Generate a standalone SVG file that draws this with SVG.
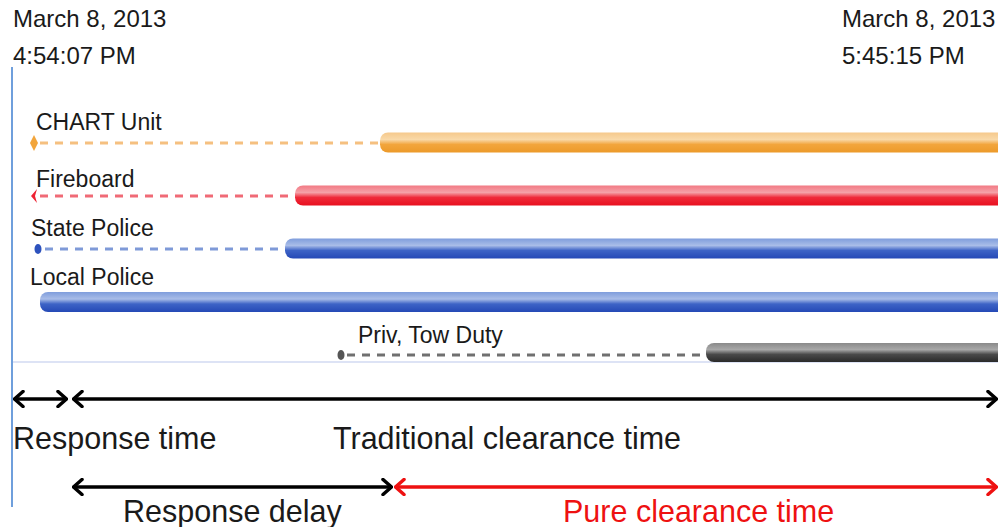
<svg xmlns="http://www.w3.org/2000/svg" width="998" height="527" viewBox="0 0 998 527">
<style>
text{font-family:"Liberation Sans",Arial,sans-serif;fill:#1a1a1a}
.lbl{font-size:23px}
.top{font-size:24px}
.big{font-size:30.5px}
.dash{stroke-width:3.2;stroke-dasharray:8 7;fill:none}
.arr{stroke-width:3.5;fill:none}
</style>
<defs>
<linearGradient id="gO" x1="0" y1="0" x2="0" y2="1"><stop offset="0" stop-color="#f6c98c"/><stop offset="0.35" stop-color="#f9d9a8"/><stop offset="0.6" stop-color="#f2a53c"/><stop offset="1" stop-color="#ec9a2a"/></linearGradient>
<linearGradient id="gR" x1="0" y1="0" x2="0" y2="1"><stop offset="0" stop-color="#f27a84"/><stop offset="0.35" stop-color="#f5a1a8"/><stop offset="0.6" stop-color="#ef2a3a"/><stop offset="1" stop-color="#e8101f"/></linearGradient>
<linearGradient id="gB" x1="0" y1="0" x2="0" y2="1"><stop offset="0" stop-color="#7f9ddc"/><stop offset="0.35" stop-color="#a9bde8"/><stop offset="0.6" stop-color="#3d63c6"/><stop offset="1" stop-color="#2549b6"/></linearGradient>
<linearGradient id="gK" x1="0" y1="0" x2="0" y2="1"><stop offset="0" stop-color="#8a8a8a"/><stop offset="0.35" stop-color="#a8a8a8"/><stop offset="0.6" stop-color="#4a4a4a"/><stop offset="1" stop-color="#2a2a2a"/></linearGradient>
<marker id="hK" viewBox="0 0 12 18" refX="11" refY="9" markerWidth="12" markerHeight="18" markerUnits="userSpaceOnUse" orient="auto-start-reverse"><polyline points="2,1.5 10.5,9 2,16.5" fill="none" stroke="#000" stroke-width="3.5" stroke-linejoin="round" stroke-linecap="round"/></marker>
<marker id="hR" viewBox="0 0 12 18" refX="11" refY="9" markerWidth="12" markerHeight="18" markerUnits="userSpaceOnUse" orient="auto-start-reverse"><polyline points="2,1.5 10.5,9 2,16.5" fill="none" stroke="#ee1111" stroke-width="3.5" stroke-linejoin="round" stroke-linecap="round"/></marker>
</defs>
<rect width="998" height="527" fill="#fff"/>
<g id="axes">
<line x1="12" y1="362" x2="998" y2="362" stroke="#dde3f5" stroke-width="2"/>
<line x1="12" y1="67" x2="12" y2="507" stroke="#6f9fdc" stroke-width="2"/>
</g>
<g id="time-start">
<text class="top" x="13" y="27">March 8, 2013</text>
<text class="top" x="13" y="64">4:54:07 PM</text>
</g>
<g id="time-end">
<text class="top" x="842" y="27">March 8, 2013</text>
<text class="top" x="842" y="64">5:45:15 PM</text>
</g>
<g id="chart-unit">
<text class="lbl" x="36" y="130">CHART Unit</text>
<line class="dash" x1="40" y1="143" x2="380" y2="143" stroke="#f5c080"/>
<path d="M34,135 L38,143 L34,151 L30,143 Z" fill="#f2a53c"/>
<rect x="380" y="132.5" width="640" height="20" rx="8" fill="url(#gO)"/>
</g>
<g id="fireboard">
<text class="lbl" x="36" y="187">Fireboard</text>
<line class="dash" x1="40" y1="196" x2="295" y2="196" stroke="#f06a76"/>
<path d="M37,189 L31,196 L37,203 L35,196 Z" fill="#ee2233"/>
<rect x="295" y="185.5" width="720" height="20" rx="8" fill="url(#gR)"/>
</g>
<g id="state-police">
<text class="lbl" x="31" y="236">State Police</text>
<line class="dash" x1="45" y1="249" x2="285" y2="249" stroke="#7f9ad8"/>
<ellipse cx="38" cy="249" rx="3.5" ry="5" fill="#2d52bd"/>
<rect x="285" y="238.5" width="730" height="20" rx="8" fill="url(#gB)"/>
</g>
<g id="local-police">
<text class="lbl" x="30" y="285">Local Police</text>
<rect x="40" y="292" width="980" height="20" rx="8" fill="url(#gB)"/>
</g>
<g id="tow-duty">
<text class="lbl" x="358" y="343">Priv, Tow Duty</text>
<line class="dash" x1="347" y1="355" x2="706" y2="355" stroke="#707070"/>
<ellipse cx="341" cy="355" rx="3.5" ry="5" fill="#555"/>
<rect x="706" y="343" width="320" height="19" rx="8" fill="url(#gK)"/>
</g>
<g id="connectors">
<line class="arr" x1="14" y1="399" x2="67" y2="399" stroke="#000" marker-start="url(#hK)" marker-end="url(#hK)"/>
<line class="arr" x1="73" y1="399" x2="997" y2="399" stroke="#000" marker-start="url(#hK)" marker-end="url(#hK)"/>
<line class="arr" x1="73" y1="487" x2="392" y2="487" stroke="#000" marker-start="url(#hK)" marker-end="url(#hK)"/>
<line class="arr" x1="395" y1="487" x2="997" y2="487" stroke="#ee1111" marker-start="url(#hR)" marker-end="url(#hR)"/>
</g>
<g id="labels">
<text class="big" x="13" y="449">Response time</text>
<text class="big" x="333" y="449">Traditional clearance time</text>
<text class="big" x="123" y="522">Response delay</text>
<text class="big" x="563" y="522" style="fill:#ee1111">Pure clearance time</text>
</g>
</svg>
